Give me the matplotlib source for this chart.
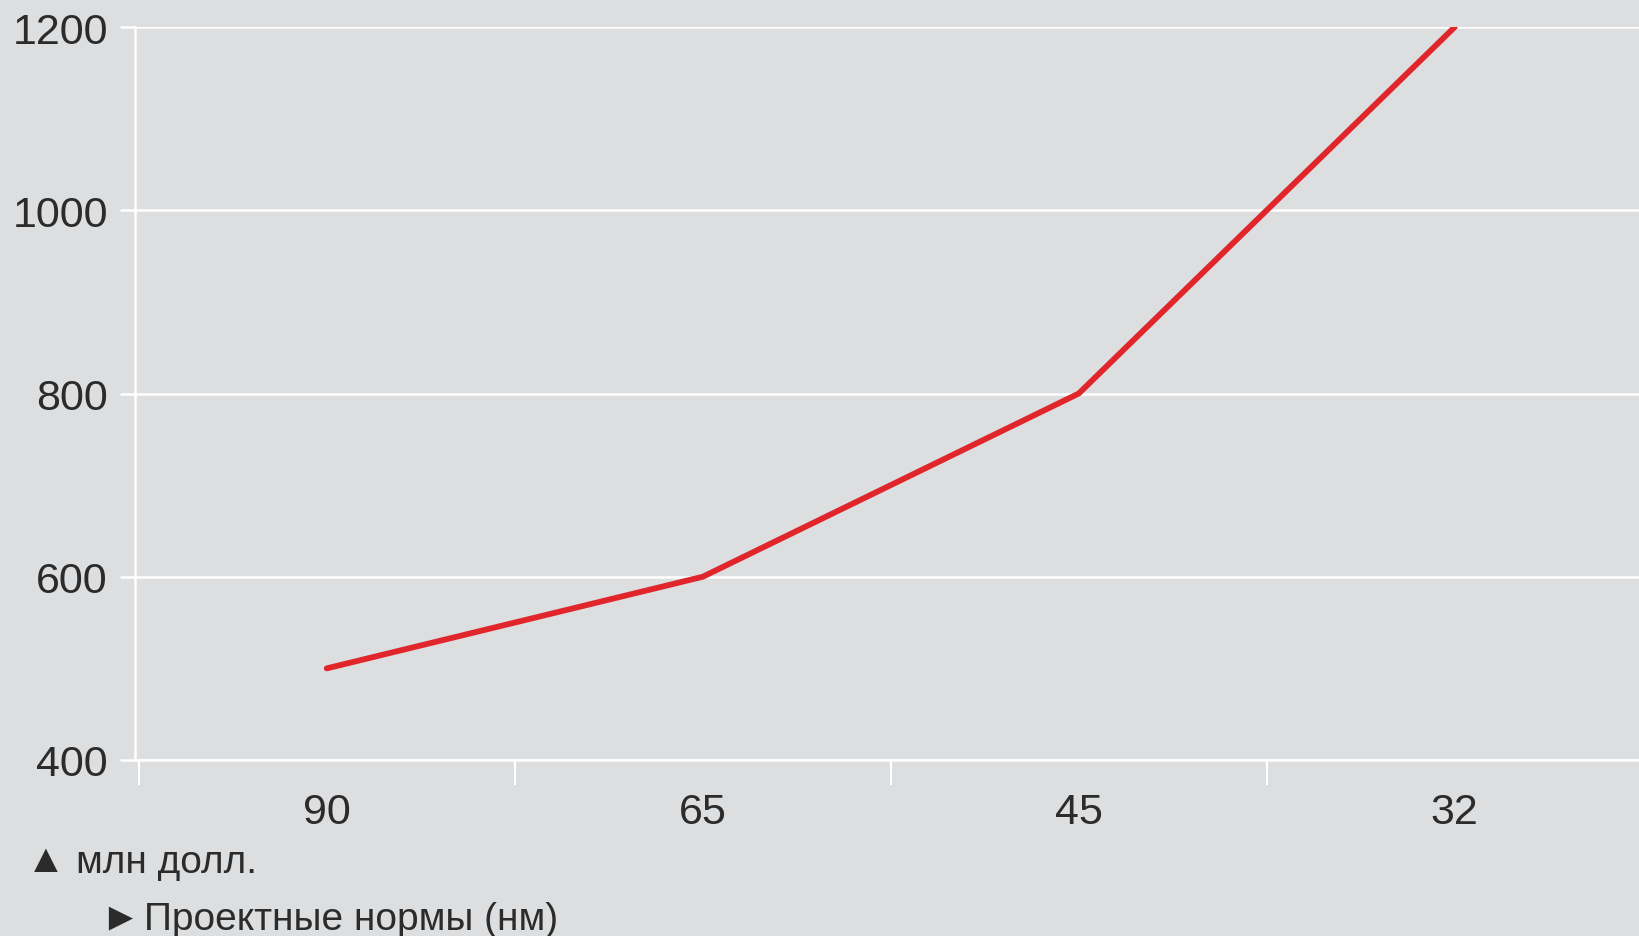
import matplotlib
matplotlib.use("Agg")
import matplotlib.pyplot as plt

# data
nodes = ["90", "65", "45", "32"]          # design rule, nm
cost = [500, 600, 800, 1200]              # mln USD
yticks = [400, 600, 800, 1000, 1200]

bg = "#dddee0"
txt = "#2b2b2b"
red = "#e0262b"
fonts = ["Liberation Sans", "DejaVu Sans"]
plt.rcParams["font.family"] = fonts

W, H = 1639, 937
fig = plt.figure(figsize=(W / 100, H / 100), dpi=100, facecolor=bg)
ax = fig.add_axes([135 / W, 1 - 761 / H, 1 - 135 / W, (761 - 28) / H])
ax.set_facecolor(bg)

x = list(range(len(nodes)))
ax.plot(x, cost, color=red, lw=4.2, solid_capstyle="round",
        solid_joinstyle="round", zorder=3)

ax.set_xlim(-0.51, 3.49)
ax.set_ylim(400, 1200)
ax.set_yticks(yticks)
ax.set_xticks(x)
ax.set_xticklabels(nodes)
ax.set_xticks([-0.5, 0.5, 1.5, 2.5], minor=True)

ax.grid(axis="y", color="white", lw=1.8, zorder=1)
for s in ["top", "right"]:
    ax.spines[s].set_visible(False)
ax.spines["left"].set_color("white")
ax.spines["left"].set_linewidth(1.8)
ax.spines["bottom"].set_color("white")
ax.spines["bottom"].set_linewidth(1.8)

ax.tick_params(axis="y", colors="white", length=11, width=1.8, pad=8.5,
               labelcolor=txt, labelsize=31)
ax.tick_params(axis="x", which="major", length=0, pad=23,
               labelcolor=txt, labelsize=31)
ax.tick_params(axis="x", which="minor", colors="white", length=18, width=1.5)

# axis captions under the chart, markers placed separately
fig.text(26 / W, 1 - 872 / H, "▲", color=txt, fontsize=29,
         va="baseline", ha="left")
fig.text(76 / W, 1 - 873 / H, "млн долл.", color=txt, fontsize=28,
         va="baseline", ha="left")
fig.text(100 / W, 1 - 929 / H, "►", color=txt, fontsize=29,
         va="baseline", ha="left")
fig.text(144 / W, 1 - 930 / H, "Проектные нормы (нм)", color=txt,
         fontsize=28, va="baseline", ha="left")

fig.savefig("out.png", dpi=100, facecolor=bg)
